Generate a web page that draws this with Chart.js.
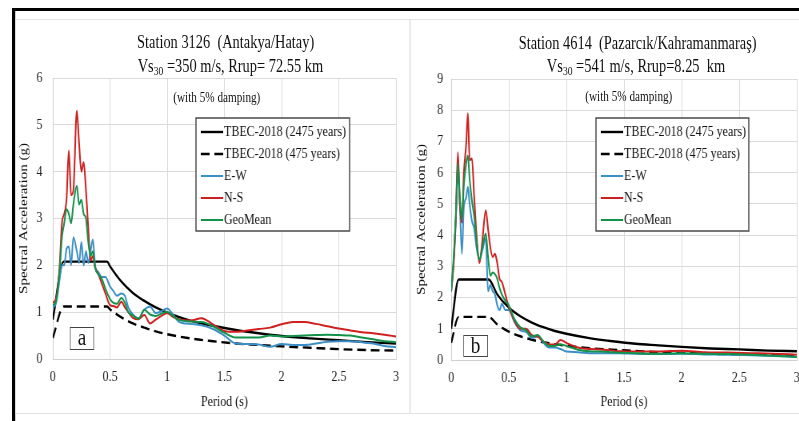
<!DOCTYPE html>
<html>
<head>
<meta charset="utf-8">
<script src="https://cdn.jsdelivr.net/npm/chart.js@4.4.0/dist/chart.umd.min.js"></script>
<style>
  html, body { margin: 0; padding: 0; background: #fff; }
  body { width: 799px; height: 421px; overflow: hidden; position: relative; }
  /* the figure is laid out 1000px wide, then squeezed like the source image */
  #fig { position: absolute; left: 0; top: 0; width: 1000px; height: 421px;
         transform: scaleX(0.8); transform-origin: 0 0;
         font-family: "Liberation Serif", "Times New Roman", serif; color: #111; }
  .rule { position: absolute; background: #000; }
  .panel { position: absolute; border: 1px solid #e2e2e2; box-sizing: border-box; }
  canvas { position: absolute; }
  .ttl { position: absolute; white-space: nowrap; transform: translate(-50%, -50%); font-size: 18px; }
  .ttl sub { font-size: 12px; vertical-align: -3px; }
  .note { position: absolute; white-space: nowrap; transform: translate(-50%, -50%); font-size: 14px; }
  .tag { position: absolute; box-sizing: border-box; border: 1.5px solid #444; background: #fff;
         font-size: 24px; line-height: 18px; text-align: center; }
</style>
</head>
<body>
<div id="fig">
  <div class="rule" style="left:15px;top:8px;width:985px;height:3px"></div>
  <div class="rule" style="left:15px;top:8px;width:4px;height:413px"></div>
  <div class="panel" style="left:19px;top:19px;width:494px;height:395px"></div>
  <div class="panel" style="left:512px;top:19px;width:490px;height:395px"></div>

  <canvas id="chartA" width="490" height="393" style="left:19px;top:20px"></canvas>
  <canvas id="chartB" width="485" height="393" style="left:514px;top:20px"></canvas>

  <div class="ttl" style="left:282px;top:42px">Station 3126&nbsp; (Antakya/Hatay)</div>
  <div class="ttl" style="left:288px;top:67px">Vs<sub>30</sub> =350 m/s, Rrup= 72.55 km</div>
  <div class="note" style="left:271px;top:98px">(with 5% damping)</div>

  <div class="ttl" style="left:797px;top:43px">Station 4614&nbsp; (Pazarcık/Kahramanmaraş)</div>
  <div class="ttl" style="left:795px;top:67px">Vs<sub>30</sub> =541 m/s, Rrup=8.25&nbsp; km</div>
  <div class="note" style="left:786px;top:97px">(with 5% damping)</div>

  <div class="tag" style="left:87px;top:327px;width:31px;height:23px">a</div>
  <div class="tag" style="left:579px;top:335px;width:31px;height:22px">b</div>
</div>

<script>
Chart.defaults.font.family = '"Liberation Serif", "Times New Roman", serif';
Chart.defaults.color = '#222';

const seriesLabels = ['TBEC-2018 (2475 years)', 'TBEC-2018 (475 years)', 'E-W', 'N-S', 'GeoMean'];
const xTickValues = [0, 0.5, 1, 1.5, 2, 2.5, 3];
const yTickValuesA = [0, 1, 2, 3, 4, 5, 6];
const yTickValuesB = [0, 1, 2, 3, 4, 5, 6, 7, 8, 9];

// Station 3126 (Antakya/Hatay)
const designPeriodsA = [0, 0.095, 0.475, 0.5, 0.6, 0.7, 0.8, 0.9, 1.0, 1.2, 1.4, 1.6, 1.8, 2.0, 2.25, 2.5, 2.75, 3.0];
const tbec2475A = [0.84, 2.08, 2.08, 1.98, 1.65, 1.41, 1.24, 1.1, 0.99, 0.82, 0.71, 0.62, 0.55, 0.49, 0.44, 0.4, 0.36, 0.33];
const tbec475A  = [0.45, 1.12, 1.12, 1.06, 0.89, 0.76, 0.67, 0.59, 0.53, 0.44, 0.38, 0.33, 0.3, 0.27, 0.24, 0.21, 0.19, 0.18];
const periodsA = [0, 0.03, 0.06, 0.08, 0.1, 0.12, 0.14, 0.16, 0.18, 0.21, 0.23, 0.25, 0.27, 0.29, 0.31, 0.33, 0.35, 0.37,
  0.4, 0.43, 0.46, 0.5, 0.53, 0.56, 0.6, 0.63, 0.66, 0.7, 0.75, 0.8, 0.85, 0.9, 0.95, 1.0, 1.05, 1.1, 1.2, 1.3, 1.4,
  1.5, 1.6, 1.7, 1.8, 1.9, 2.0, 2.1, 2.2, 2.3, 2.4, 2.5, 2.6, 2.7, 2.8, 2.9, 3.0];
const ewA = [1.1, 1.2, 1.7, 2.0, 2.0, 2.35, 2.4, 2.0, 2.6, 2.3, 2.05, 2.5, 2.0, 2.3, 2.05, 2.3, 2.55, 2.0,
  1.85, 1.75, 1.75, 1.55, 1.45, 1.35, 1.4, 1.35, 1.1, 0.95, 0.87, 1.05, 1.12, 0.98, 1.02, 1.08, 0.95, 0.8, 0.75, 0.72, 0.64,
  0.5, 0.33, 0.32, 0.31, 0.26, 0.32, 0.3, 0.3, 0.33, 0.37, 0.38, 0.38, 0.36, 0.33, 0.28, 0.25];
const nsA = [1.2, 1.3, 2.0, 2.9, 3.1, 3.4, 4.45, 3.5, 3.6, 5.3, 4.6, 4.0, 4.2, 3.6, 2.8, 2.1, 2.2, 1.95,
  1.8, 1.6, 1.4, 1.15, 1.13, 1.1, 1.22, 1.1, 1.0, 0.88, 0.85, 0.94, 0.76, 0.84, 0.92, 0.98, 0.9, 0.85, 0.82, 0.87, 0.74,
  0.6, 0.58, 0.61, 0.64, 0.67, 0.74, 0.79, 0.79, 0.75, 0.7, 0.65, 0.61, 0.57, 0.55, 0.52, 0.48];
const gmA = [1.15, 1.25, 1.9, 2.6, 2.9, 3.2, 3.1, 2.9, 3.3, 3.7, 3.3, 3.4, 3.1, 3.0, 2.5, 2.2, 2.3, 1.95,
  1.8, 1.7, 1.5, 1.28, 1.2, 1.18, 1.3, 1.2, 1.0, 0.93, 0.86, 1.05, 0.95, 0.92, 0.97, 1.01, 0.92, 0.84, 0.8, 0.79, 0.7,
  0.56, 0.46, 0.46, 0.46, 0.5, 0.48, 0.49, 0.5, 0.51, 0.52, 0.51, 0.5, 0.46, 0.42, 0.38, 0.36];

// Station 4614 (Pazarcik/Kahramanmaras)
const designPeriodsB = [0, 0.065, 0.325, 0.4, 0.5, 0.6, 0.7, 0.8, 0.9, 1.0, 1.2, 1.4, 1.6, 1.8, 2.0, 2.25, 2.5, 2.75, 3.0];
const tbec2475B = [1.0, 2.58, 2.58, 2.1, 1.68, 1.4, 1.2, 1.05, 0.93, 0.84, 0.7, 0.6, 0.52, 0.47, 0.42, 0.37, 0.34, 0.3, 0.28];
const tbec475B  = [0.55, 1.38, 1.38, 1.14, 0.91, 0.76, 0.65, 0.57, 0.51, 0.46, 0.38, 0.33, 0.29, 0.25, 0.23, 0.2, 0.18, 0.17, 0.15];
const periodsB = [0, 0.02, 0.04, 0.058, 0.075, 0.093, 0.11, 0.13, 0.145, 0.16, 0.18, 0.2, 0.22, 0.245, 0.27, 0.3, 0.32,
  0.34, 0.36, 0.38, 0.4, 0.42, 0.44, 0.47, 0.5, 0.55, 0.6, 0.65, 0.7, 0.75, 0.8, 0.85, 0.9, 0.95, 1.0, 1.1, 1.2, 1.3,
  1.4, 1.5, 1.6, 1.8, 2.0, 2.2, 2.4, 2.6, 2.8, 3.0];
const ewB = [2.2, 3.1, 4.5, 6.0, 5.0, 3.4, 4.9, 5.2, 5.55, 5.0, 4.45, 4.2, 3.6, 3.2, 3.5, 3.9, 2.2,
  2.4, 2.2, 2.1, 1.75, 1.6, 1.8, 1.6, 1.6, 1.2, 0.95, 0.9, 0.7, 0.75, 0.55, 0.4, 0.4, 0.35, 0.27, 0.25, 0.22, 0.22,
  0.22, 0.21, 0.2, 0.19, 0.2, 0.18, 0.17, 0.15, 0.13, 0.1];
const nsB = [2.2, 3.0, 4.5, 6.65, 5.0, 4.4, 6.0, 6.9, 7.9, 6.4, 6.45, 5.2, 4.0, 3.1, 3.8, 4.8, 4.2,
  3.6, 3.3, 3.4, 3.1, 2.6, 2.5, 2.1, 1.7, 1.25, 1.0, 1.0, 0.8, 0.75, 0.6, 0.5, 0.5, 0.64, 0.55, 0.4, 0.35, 0.34,
  0.3, 0.28, 0.27, 0.27, 0.3, 0.25, 0.24, 0.22, 0.2, 0.17];
const gmB = [2.2, 3.2, 4.6, 6.3, 5.2, 4.5, 5.6, 6.3, 6.55, 5.8, 5.1, 4.6, 3.8, 3.2, 3.6, 4.05, 3.3,
  2.7, 2.8, 2.75, 2.6, 2.3, 2.1, 1.9, 1.75, 1.3, 1.05, 0.95, 0.75, 0.8, 0.6, 0.45, 0.45, 0.5, 0.45, 0.33, 0.28, 0.27,
  0.25, 0.23, 0.22, 0.2, 0.22, 0.2, 0.19, 0.17, 0.14, 0.1];

const pts = (xs, ys) => xs.map((x, i) => ({ x: x, y: ys[i] }));

// boxed legend drawn inside the plot, like the original
const boxLegend = {
  id: 'boxLegend',
  afterDatasetsDraw(chart, args, opts) {
    const ctx = chart.ctx;
    ctx.save();
    ctx.fillStyle = '#fff';
    ctx.fillRect(opts.x, opts.y, opts.w, opts.h);
    ctx.strokeStyle = '#4a4a4a';
    ctx.lineWidth = 1.5;
    ctx.strokeRect(opts.x, opts.y, opts.w, opts.h);
    ctx.font = '15px "Liberation Serif"';
    ctx.textBaseline = 'middle';
    chart.data.datasets.forEach((ds, i) => {
      const yy = opts.y + 14 + i * 22;
      ctx.beginPath();
      ctx.setLineDash(ds.borderDash || []);
      ctx.strokeStyle = ds.borderColor;
      ctx.lineWidth = ds.borderWidth;
      ctx.moveTo(opts.x + 6, yy);
      ctx.lineTo(opts.x + 34, yy);
      ctx.stroke();
      ctx.setLineDash([]);
      ctx.fillStyle = '#111';
      ctx.fillText(ds.label, opts.x + 35, yy);
    });
    ctx.restore();
  }
};

function makeChart(id, cfg) {
  const axisFont = { size: 15 };
  return new Chart(id, {
    type: 'line',
    data: {
      datasets: [
        { label: seriesLabels[0], data: pts(cfg.dp, cfg.d2475), borderColor: '#000', borderWidth: 2.4, order: 5 },
        { label: seriesLabels[1], data: pts(cfg.dp, cfg.d475), borderColor: '#000', borderWidth: 2.4, borderDash: [11, 6], order: 4 },
        { label: seriesLabels[2], data: pts(cfg.p, cfg.ew), borderColor: '#3b8fc6', borderWidth: 2, order: 3 },
        { label: seriesLabels[3], data: pts(cfg.p, cfg.ns), borderColor: '#d01f1f', borderWidth: 2, order: 2 },
        { label: seriesLabels[4], data: pts(cfg.p, cfg.gm), borderColor: '#12924a', borderWidth: 2, order: 1 }
      ]
    },
    options: {
      responsive: false,
      animation: false,
      elements: { point: { radius: 0 }, line: { cubicInterpolationMode: 'monotone', fill: false } },
      layout: { padding: { left: 0, right: cfg.padRight, top: cfg.padTop, bottom: 0 } },
      plugins: { legend: { display: false }, tooltip: { enabled: false }, boxLegend: cfg.legendBox },
      scales: {
        x: {
          type: 'linear', min: 0, max: 3,
          grid: { color: '#dadada', drawTicks: false },
          border: { color: '#cfcfcf' },
          afterBuildTicks: s => { s.ticks = xTickValues.map(v => ({ value: v })); },
          afterFit: s => { s.height = cfg.xHeight; s.paddingLeft = 0; s.paddingRight = 0; },
          ticks: { font: axisFont, padding: 9, color: '#222', callback: v => String(v) },
          title: { display: true, text: 'Period (s)', font: axisFont, color: '#111', padding: { top: 0, bottom: 2 } }
        },
        y: {
          min: 0, max: cfg.yMax,
          grid: { color: '#dadada', drawTicks: false },
          border: { color: '#cfcfcf' },
          afterBuildTicks: s => { s.ticks = cfg.yTicks.map(v => ({ value: v })); },
          afterFit: s => { s.width = cfg.yWidth; },
          ticks: { font: axisFont, padding: cfg.yPad, color: '#222', callback: v => String(v) },
          title: { display: true, text: 'Spectral Acceleration (g)', font: axisFont, color: '#111', padding: { top: cfg.yTitlePad, bottom: 0 } }
        }
      }
    },
    plugins: [boxLegend]
  });
}

makeChart('chartA', {
  dp: designPeriodsA, d2475: tbec2475A, d475: tbec475A,
  p: periodsA, ew: ewA, ns: nsA, gm: gmA,
  yMax: 6, yTicks: yTickValuesA,
  padRight: 14, padTop: 58, xHeight: 54, yWidth: 47, yPad: 13, yTitlePad: 2,
  legendBox: { x: 226, y: 98, w: 192, h: 113 }
});

makeChart('chartB', {
  dp: designPeriodsB, d2475: tbec2475B, d475: tbec475B,
  p: periodsB, ew: ewB, ns: nsB, gm: gmB,
  yMax: 9, yTicks: yTickValuesB,
  padRight: 3, padTop: 59, xHeight: 53, yWidth: 50, yPad: 10, yTitlePad: 4,
  legendBox: { x: 231, y: 98, w: 191, h: 113 }
});
</script>
</body>
</html>
